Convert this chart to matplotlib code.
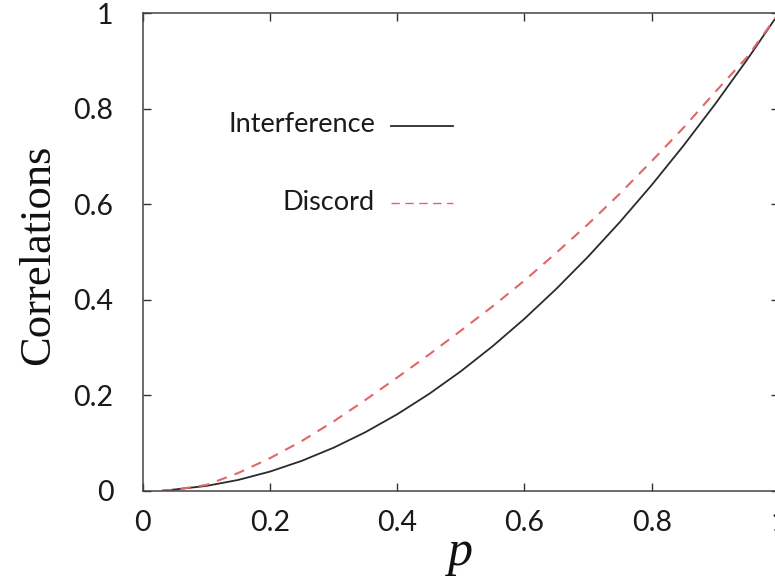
import matplotlib
matplotlib.use("Agg")
import matplotlib.pyplot as plt

# Data
p_values = [0.03, 0.05, 0.10, 0.15, 0.20, 0.25, 0.30, 0.35, 0.40, 0.45, 0.50,
            0.55, 0.60, 0.65, 0.70, 0.75, 0.80, 0.85, 0.90, 0.95, 1.00]
interference = [0.0, 0.0025, 0.010, 0.0225, 0.040, 0.0625, 0.090, 0.1225, 0.160,
                0.2025, 0.250, 0.3025, 0.360, 0.4225, 0.490, 0.5625, 0.640,
                0.7225, 0.810, 0.9025, 1.000]
discord = [0.0, 0.002, 0.012, 0.037, 0.068, 0.104, 0.145, 0.190, 0.237, 0.285,
           0.335, 0.386, 0.440, 0.498, 0.558, 0.622, 0.690, 0.760, 0.835,
           0.908, 1.000]
x_ticks = [0, 0.2, 0.4, 0.6, 0.8, 1]
x_tick_labels = ["0", "0.2", "0.4", "0.6", "0.8", "1"]
y_ticks = [0, 0.2, 0.4, 0.6, 0.8, 1]
y_tick_labels = ["0", "0.2", "0.4", "0.6", "0.8", "1"]
series_labels = ["Interference", "Discord"]

W, H = 775, 581
fig = plt.figure(figsize=(W / 100, H / 100), dpi=100)
x0, x1 = 142.7, 779.0
y_top, y_bot = 13.0, 490.7
ax = fig.add_axes([x0 / W, (H - y_bot) / H, (x1 - x0) / W, (y_bot - y_top) / H])

ax.plot(p_values, interference, color="#2b2b2b", lw=1.3, solid_capstyle="butt")
ax.plot(p_values, discord, color="#e36666", lw=1.5, linestyle=(0, (5, 4)))

ax.set_xlim(0, 1)
ax.set_ylim(0, 1)
ax.set_xticks(x_ticks)
ax.set_xticklabels(x_tick_labels)
ax.set_yticks(y_ticks)
ax.set_yticklabels(y_tick_labels)

tick_font = "Lato"
for lab in ax.get_xticklabels() + ax.get_yticklabels():
    lab.set_fontfamily(tick_font)
    lab.set_fontsize(20.5)
    lab.set_color("#1a1a1a")

ax.tick_params(direction="in", length=6, width=1, color="#333333",
               top=True, right=True)
ax.tick_params(axis="x", pad=14)
ax.tick_params(axis="y", pad=21)
for s in ax.spines.values():
    s.set_color("#444444")
    s.set_linewidth(1.1)

# Axis titles placed in figure pixel coordinates
fig.text(38 / W, 1 - 255 / H, "Correlations", rotation=90, ha="center",
         va="center", fontfamily="Liberation Serif", fontsize=32,
         color="#111111")
fig.text(460 / W, 1 - 553 / H, "p", ha="center", va="center",
         fontfamily="Liberation Serif", fontstyle="italic", fontsize=36,
         color="#111111")

# Manual legend (text then line sample)
def fx(px):
    return (px - x0) / (x1 - x0)

def fy(py):
    return (y_bot - py) / (y_bot - y_top)

ax.text(fx(375), fy(125), series_labels[0], transform=ax.transAxes,
        ha="right", va="center", fontfamily=tick_font, fontsize=19.5,
        color="#1a1a1a")
ax.plot([fx(391), fx(453)], [fy(126), fy(126)], transform=ax.transAxes,
        color="#2b2b2b", lw=1.3, clip_on=False)
ax.text(fx(375), fy(202), series_labels[1], transform=ax.transAxes,
        ha="right", va="center", fontfamily=tick_font, fontsize=19.5,
        color="#1a1a1a")
ax.plot([fx(391), fx(453)], [fy(203), fy(203)], transform=ax.transAxes,
        color="#e36666", lw=1.0, linestyle=(0, (6, 4)), clip_on=False)

fig.savefig("out.png", dpi=100)
